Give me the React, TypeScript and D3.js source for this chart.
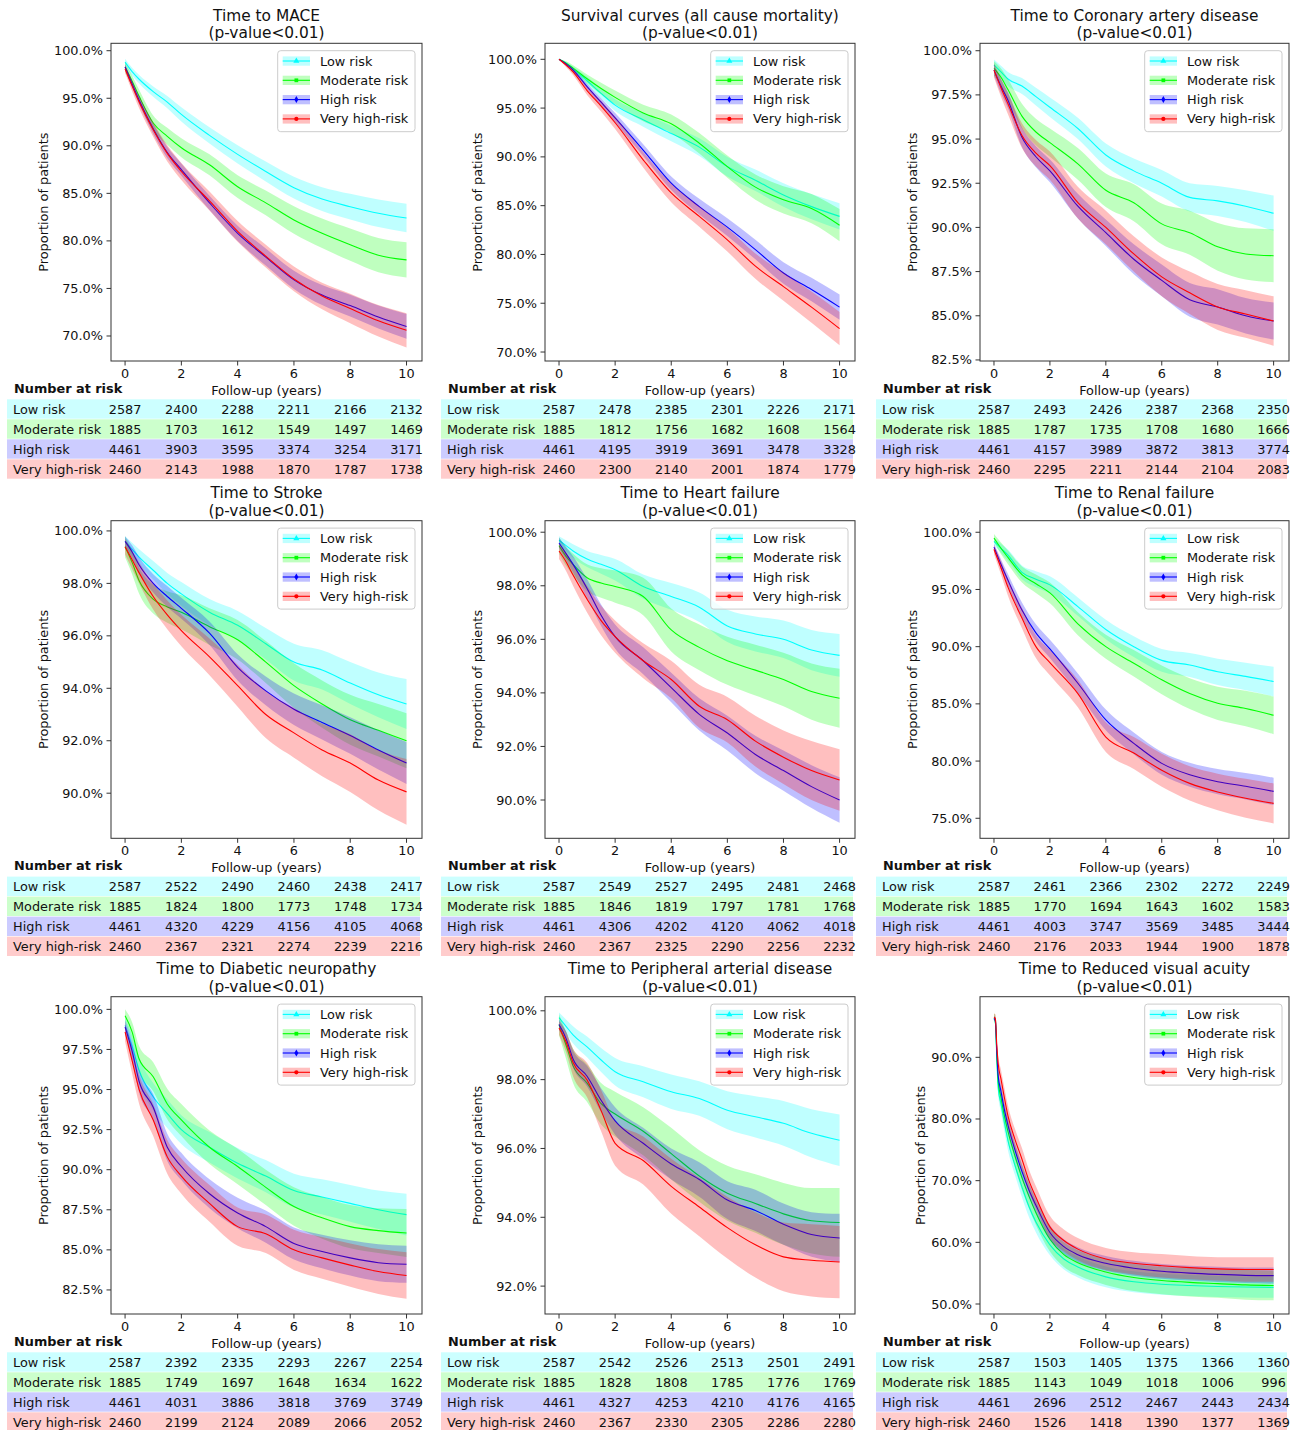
import * as d3 from 'd3';

const W = 1304;
const H = 1430;
const FONT = '"DejaVu Sans", sans-serif';
const FS = 12.85;
const TITLE_FS = 15.4;

const GROUPS = ['Low risk', 'Moderate risk', 'High risk', 'Very high-risk'];
const COLORS = ['#00ffff', '#00ff00', '#0000ff', '#ff0000'];
const TABLE_FILL = ['#ccffff', '#ccffcc', '#ccccff', '#ffcccc'];
const MARKERS = [d3.symbolTriangle, d3.symbolSquare, d3.symbolDiamond, d3.symbolCircle];

const TIMES = [0, 0.25, 0.5, 1, 1.5, 2, 3, 4, 5, 6, 7, 8, 9, 10];
const VA_TIMES = [0, 0.05, 0.1, 0.15, 0.25, 0.35, 0.5, 0.75, 1, 1.25, 1.5, 2, 2.5, 3, 4, 5, 6, 7, 8, 9, 10];
const X_TICKS = [0, 2, 4, 6, 8, 10];

// ---- MACE
const MACE_EST = [
  [98.8, 97.8, 97.0, 95.7, 94.6, 93.3, 91.1, 89.1, 87.3, 85.6, 84.4, 83.6, 82.9, 82.4],
  [98.3, 96.8, 95.2, 92.4, 91.0, 89.8, 88.0, 85.7, 84.0, 82.2, 80.8, 79.6, 78.5, 78.0],
  [98.3, 96.5, 94.8, 91.8, 89.3, 87.5, 84.0, 80.8, 78.3, 75.9, 74.3, 73.2, 72.0, 71.0],
  [98.1, 96.3, 94.6, 91.7, 89.2, 87.3, 84.2, 81.0, 78.4, 76.0, 74.2, 72.9, 71.6, 70.6],
];
const MACE_CI = [
  [0.35, 0.4, 0.45, 0.55, 0.65, 0.75, 0.85, 0.95, 1.05, 1.15, 1.25, 1.35, 1.45, 1.5],
  [0.5, 0.6, 0.7, 0.8, 0.9, 1.0, 1.1, 1.2, 1.3, 1.45, 1.55, 1.7, 1.8, 1.85],
  [0.3, 0.4, 0.45, 0.55, 0.6, 0.65, 0.75, 0.8, 0.9, 0.95, 1.05, 1.15, 1.2, 1.3],
  [0.45, 0.55, 0.65, 0.75, 0.85, 0.9, 1.0, 1.1, 1.2, 1.3, 1.4, 1.55, 1.65, 1.8],
];
const MACE_RISK = [
  [2587, 2400, 2288, 2211, 2166, 2132],
  [1885, 1703, 1612, 1549, 1497, 1469],
  [4461, 3903, 3595, 3374, 3254, 3171],
  [2460, 2143, 1988, 1870, 1787, 1738],
];

// ---- all cause mortality
const DEATH_EST = [
  [100, 99.6, 99.0, 97.8, 96.5, 95.3, 93.8, 92.4, 91.0, 89.0, 87.6, 86.1, 84.9, 83.9],
  [100, 99.6, 99.1, 98.0, 97.0, 96.1, 94.5, 93.4, 91.4, 89.0, 86.9, 85.6, 84.7, 83.0],
  [100, 99.5, 98.9, 97.2, 95.6, 94.0, 90.7, 87.3, 84.9, 82.8, 80.5, 78.1, 76.4, 74.6],
  [100, 99.4, 98.7, 96.8, 95.2, 93.5, 89.7, 86.3, 83.9, 81.5, 78.8, 76.7, 74.6, 72.4],
];
const DEATH_CI = [
  [0, 0.15, 0.25, 0.4, 0.5, 0.6, 0.7, 0.8, 0.9, 1.0, 1.1, 1.2, 1.3, 1.35],
  [0, 0.2, 0.3, 0.45, 0.6, 0.7, 0.85, 0.95, 1.05, 1.15, 1.3, 1.4, 1.5, 1.65],
  [0, 0.15, 0.2, 0.3, 0.4, 0.5, 0.6, 0.7, 0.8, 0.9, 1.0, 1.1, 1.2, 1.3],
  [0, 0.2, 0.3, 0.45, 0.55, 0.65, 0.8, 0.95, 1.05, 1.2, 1.3, 1.45, 1.6, 1.7],
];
const DEATH_RISK = [
  [2587, 2478, 2385, 2301, 2226, 2171],
  [1885, 1812, 1756, 1682, 1608, 1564],
  [4461, 4195, 3919, 3691, 3478, 3328],
  [2460, 2300, 2140, 2001, 1874, 1779],
];

// ---- coronary artery disease
const CAD_EST = [
  [99.2, 98.8, 98.4, 98.0, 97.4, 96.8, 95.6, 94.1, 93.2, 92.5, 91.7, 91.5, 91.2, 90.8],
  [99.0, 98.5, 97.8, 96.3, 95.4, 94.8, 93.6, 92.1, 91.4, 90.2, 89.7, 88.9, 88.5, 88.4],
  [98.9, 98.0, 97.2, 95.1, 94.0, 93.2, 91.2, 89.7, 88.2, 87.0, 85.9, 85.5, 85.0, 84.7],
  [98.9, 97.9, 97.0, 95.2, 94.2, 93.5, 91.4, 90.0, 88.5, 87.2, 86.3, 85.5, 85.1, 84.7],
];
const CAD_CI = [
  [0.3, 0.35, 0.4, 0.45, 0.5, 0.55, 0.6, 0.65, 0.7, 0.75, 0.8, 0.85, 0.9, 1.0],
  [0.4, 0.5, 0.6, 0.7, 0.75, 0.8, 0.9, 0.95, 1.05, 1.15, 1.25, 1.35, 1.45, 1.5],
  [0.3, 0.4, 0.45, 0.55, 0.6, 0.65, 0.7, 0.75, 0.85, 0.9, 0.95, 1.0, 1.0, 1.05],
  [0.4, 0.5, 0.6, 0.7, 0.75, 0.8, 0.9, 0.95, 1.0, 1.1, 1.2, 1.3, 1.35, 1.4],
];
const CAD_RISK = [
  [2587, 2493, 2426, 2387, 2368, 2350],
  [1885, 1787, 1735, 1708, 1680, 1666],
  [4461, 4157, 3989, 3872, 3813, 3774],
  [2460, 2295, 2211, 2144, 2104, 2083],
];

// ---- stroke
const STROKE_EST = [
  [99.6, 99.3, 99.0, 98.5, 98.0, 97.6, 96.9, 96.4, 95.7, 95.0, 94.7, 94.2, 93.75, 93.4],
  [99.4, 98.8, 98.1, 97.4, 97.1, 96.9, 96.35, 95.85, 95.0, 94.1, 93.4, 92.8, 92.4, 92.0],
  [99.6, 99.2, 98.7, 98.0, 97.5, 97.05, 96.1, 94.8, 93.9, 93.2, 92.7, 92.2, 91.65, 91.15],
  [99.4, 98.9, 98.4, 97.5, 96.8, 96.2, 95.2, 94.1, 93.0, 92.3, 91.65, 91.15, 90.5, 90.05],
];
const STROKE_CI = [
  [0.2, 0.25, 0.3, 0.35, 0.4, 0.45, 0.5, 0.55, 0.6, 0.7, 0.75, 0.8, 0.85, 0.95],
  [0.4, 0.45, 0.5, 0.55, 0.6, 0.65, 0.7, 0.75, 0.8, 0.85, 0.9, 0.95, 1.0, 1.05],
  [0.2, 0.25, 0.3, 0.35, 0.4, 0.4, 0.45, 0.5, 0.55, 0.6, 0.65, 0.7, 0.75, 0.8],
  [0.3, 0.35, 0.4, 0.5, 0.55, 0.6, 0.7, 0.8, 0.9, 0.95, 1.0, 1.1, 1.15, 1.25],
];
const STROKE_RISK = [
  [2587, 2522, 2490, 2460, 2438, 2417],
  [1885, 1824, 1800, 1773, 1748, 1734],
  [4461, 4320, 4229, 4156, 4105, 4068],
  [2460, 2367, 2321, 2274, 2239, 2216],
];

// ---- heart failure
const HF_EST = [
  [99.7, 99.5, 99.3, 99.0, 98.8, 98.6, 97.97, 97.6, 97.2, 96.5, 96.2, 96.0, 95.6, 95.4],
  [99.5, 99.1, 98.8, 98.3, 98.1, 97.97, 97.6, 96.35, 95.7, 95.2, 94.85, 94.5, 94.05, 93.8],
  [99.6, 99.2, 98.8, 97.9, 96.9, 96.1, 95.2, 94.2, 93.2, 92.5, 91.7, 91.1, 90.5, 90.0],
  [99.3, 98.9, 98.4, 97.5, 96.7, 96.1, 95.2, 94.5, 93.5, 93.0, 92.2, 91.6, 91.1, 90.75],
];
const HF_CI = [
  [0.15, 0.2, 0.25, 0.3, 0.35, 0.4, 0.45, 0.5, 0.55, 0.6, 0.65, 0.7, 0.75, 0.8],
  [0.3, 0.35, 0.4, 0.5, 0.55, 0.6, 0.7, 0.8, 0.85, 0.9, 0.95, 1.0, 1.05, 1.1],
  [0.2, 0.25, 0.3, 0.35, 0.4, 0.45, 0.5, 0.55, 0.6, 0.65, 0.7, 0.75, 0.8, 0.85],
  [0.3, 0.35, 0.4, 0.5, 0.55, 0.6, 0.65, 0.7, 0.8, 0.85, 0.95, 1.0, 1.1, 1.15],
];
const HF_RISK = [
  [2587, 2549, 2527, 2495, 2481, 2468],
  [1885, 1846, 1819, 1797, 1781, 1768],
  [4461, 4306, 4202, 4120, 4062, 4018],
  [2460, 2367, 2325, 2290, 2256, 2232],
];

// ---- renal failure
const RENAL_EST = [
  [99.2, 98.6, 98.0, 96.5, 95.9, 95.4, 93.5, 91.5, 90.0, 88.8, 88.4, 87.8, 87.4, 86.95],
  [99.5, 98.6, 97.8, 96.3, 95.5, 94.7, 92.0, 90.0, 88.55, 87.1, 85.9, 85.05, 84.6, 84.0],
  [98.7, 97.2, 95.8, 93.2, 91.2, 89.8, 86.8, 83.6, 81.55, 79.8, 78.8, 78.2, 77.8, 77.35],
  [98.5, 96.9, 95.2, 92.5, 90.0, 88.6, 85.9, 82.1, 80.7, 79.2, 78.05, 77.3, 76.75, 76.3],
];
const RENAL_CI = [
  [0.3, 0.4, 0.5, 0.6, 0.7, 0.75, 0.8, 0.85, 0.9, 1.0, 1.05, 1.15, 1.2, 1.3],
  [0.35, 0.5, 0.6, 0.7, 0.8, 0.9, 1.0, 1.05, 1.15, 1.25, 1.35, 1.45, 1.55, 1.65],
  [0.3, 0.45, 0.55, 0.65, 0.75, 0.8, 0.85, 0.9, 0.95, 1.0, 1.05, 1.1, 1.15, 1.2],
  [0.4, 0.6, 0.75, 0.9, 1.0, 1.1, 1.2, 1.3, 1.4, 1.45, 1.5, 1.6, 1.7, 1.75],
];
const RENAL_RISK = [
  [2587, 2461, 2366, 2302, 2272, 2249],
  [1885, 1770, 1694, 1643, 1602, 1583],
  [4461, 4003, 3747, 3569, 3485, 3444],
  [2460, 2176, 2033, 1944, 1900, 1878],
];

// ---- diabetic neuropathy
const NEURO_EST = [
  [99.0, 97.7, 96.2, 94.55, 93.5, 92.5, 91.4, 90.4, 89.6, 88.7, 88.3, 87.9, 87.5, 87.2],
  [99.6, 98.6, 96.9, 95.8, 94.1, 93.1, 91.4, 90.2, 88.9, 87.7, 87.0, 86.45, 86.2, 86.05],
  [98.9, 97.4, 95.5, 93.9, 91.4, 90.2, 88.5, 87.3, 86.45, 85.4, 84.9, 84.5, 84.2, 84.1],
  [98.6, 96.8, 95.0, 93.1, 90.8, 89.6, 87.9, 86.45, 86.0, 85.0, 84.5, 84.05, 83.65, 83.4],
];
const NEURO_CI = [
  [0.5, 0.7, 0.8, 0.85, 0.9, 0.9, 0.95, 0.95, 1.0, 1.05, 1.1, 1.15, 1.2, 1.3],
  [0.4, 0.6, 0.8, 0.9, 0.95, 1.0, 1.05, 1.1, 1.1, 1.2, 1.3, 1.35, 1.4, 1.5],
  [0.4, 0.6, 0.7, 0.8, 0.85, 0.85, 0.9, 0.95, 1.0, 1.0, 1.05, 1.1, 1.15, 1.15],
  [0.6, 0.8, 0.9, 1.0, 1.05, 1.1, 1.15, 1.2, 1.2, 1.25, 1.3, 1.35, 1.4, 1.45],
];
const NEURO_RISK = [
  [2587, 2392, 2335, 2293, 2267, 2254],
  [1885, 1749, 1697, 1648, 1634, 1622],
  [4461, 4031, 3886, 3818, 3769, 3749],
  [2460, 2199, 2124, 2089, 2066, 2052],
];

// ---- peripheral arterial disease
const PAD_EST = [
  [99.8, 99.55, 99.3, 98.95, 98.57, 98.23, 97.94, 97.65, 97.45, 97.11, 96.92, 96.73, 96.44, 96.24],
  [99.6, 99.0, 98.4, 97.9, 97.3, 97.0, 96.5, 95.85, 95.2, 94.7, 94.4, 94.1, 93.9, 93.85],
  [99.6, 99.2, 98.6, 98.1, 97.4, 96.8, 96.15, 95.55, 95.1, 94.5, 94.2, 93.8, 93.5, 93.4],
  [99.5, 99.1, 98.5, 97.99, 97.1, 96.15, 95.65, 94.9, 94.3, 93.7, 93.2, 92.85, 92.75, 92.7],
];
const PAD_CI = [
  [0.15, 0.2, 0.25, 0.3, 0.35, 0.4, 0.45, 0.5, 0.5, 0.55, 0.6, 0.65, 0.7, 0.75],
  [0.3, 0.4, 0.5, 0.55, 0.6, 0.65, 0.7, 0.75, 0.75, 0.8, 0.85, 0.9, 0.95, 1.0],
  [0.15, 0.2, 0.25, 0.3, 0.35, 0.4, 0.45, 0.45, 0.5, 0.55, 0.6, 0.6, 0.65, 0.7],
  [0.2, 0.3, 0.4, 0.5, 0.6, 0.65, 0.7, 0.8, 0.85, 0.9, 0.95, 1.0, 1.05, 1.05],
];
const PAD_RISK = [
  [2587, 2542, 2526, 2513, 2501, 2491],
  [1885, 1828, 1808, 1785, 1776, 1769],
  [4461, 4327, 4253, 4210, 4176, 4165],
  [2460, 2367, 2330, 2305, 2286, 2280],
];

// ---- reduced visual acuity (uses VA_TIMES)
const VA_EST = [
  [96.2, 95.8, 90.0, 85.0, 82.5, 80.0, 76.5, 72.5, 69.0, 65.8, 63.3, 59.6, 57.3, 56.0, 54.4, 53.6, 53.2, 53.0, 52.85, 52.75, 52.7],
  [96.4, 96.0, 90.5, 86.0, 83.5, 81.0, 78.0, 74.0, 70.5, 67.5, 64.8, 60.5, 58.0, 56.7, 55.2, 54.3, 53.8, 53.5, 53.3, 53.1, 53.0],
  [96.3, 96.0, 91.0, 87.0, 84.5, 82.0, 79.0, 75.0, 71.5, 68.5, 66.0, 61.6, 59.3, 58.0, 56.6, 55.8, 55.3, 55.0, 54.8, 54.65, 54.6],
  [96.5, 96.3, 92.0, 89.0, 86.5, 84.0, 80.5, 76.7, 73.5, 70.0, 67.3, 62.5, 60.3, 58.9, 57.3, 56.6, 56.2, 55.9, 55.7, 55.6, 55.6],
];
const VA_CI = [
  [0.6, 0.7, 1.0, 1.2, 1.4, 1.5, 1.6, 1.6, 1.7, 1.7, 1.7, 1.7, 1.7, 1.7, 1.7, 1.7, 1.7, 1.7, 1.7, 1.7, 1.7],
  [0.7, 0.8, 1.2, 1.4, 1.6, 1.7, 1.8, 1.9, 2.0, 2.0, 2.0, 2.0, 2.0, 2.0, 2.1, 2.2, 2.2, 2.3, 2.3, 2.4, 2.4],
  [0.4, 0.5, 0.8, 1.0, 1.1, 1.2, 1.2, 1.2, 1.2, 1.2, 1.2, 1.2, 1.2, 1.2, 1.2, 1.2, 1.2, 1.2, 1.25, 1.25, 1.3],
  [0.6, 0.7, 1.0, 1.3, 1.5, 1.6, 1.7, 1.7, 1.8, 1.8, 1.8, 1.8, 1.8, 1.8, 1.8, 1.8, 1.9, 1.9, 1.9, 2.0, 2.0],
];
const VA_RISK = [
  [2587, 1503, 1405, 1375, 1366, 1360],
  [1885, 1143, 1049, 1018, 1006, 996],
  [4461, 2696, 2512, 2467, 2443, 2434],
  [2460, 1526, 1418, 1390, 1377, 1369],
];

const TICKS_5 = [70, 75, 80, 85, 90, 95, 100];
const TICKS_CAD = [82.5, 85, 87.5, 90, 92.5, 95, 97.5, 100];
const TICKS_2 = [90, 92, 94, 96, 98, 100];
const TICKS_RENAL = [75, 80, 85, 90, 95, 100];
const TICKS_PAD = [92, 94, 96, 98, 100];
const TICKS_VA = [50, 60, 70, 80, 90];

const PANELS = [
  { title: 'Time to MACE', yDomain: [67.37, 100.78], yTicks: TICKS_5, times: TIMES, est: MACE_EST, ci: MACE_CI, risk: MACE_RISK },
  { title: 'Survival curves (all cause mortality)', yDomain: [69.08, 101.64], yTicks: TICKS_5, times: TIMES, est: DEATH_EST, ci: DEATH_CI, risk: DEATH_RISK },
  { title: 'Time to Coronary artery disease', yDomain: [82.44, 100.42], yTicks: TICKS_CAD, times: TIMES, est: CAD_EST, ci: CAD_CI, risk: CAD_RISK },
  { title: 'Time to Stroke', yDomain: [88.28, 100.39], yTicks: TICKS_2, times: TIMES, est: STROKE_EST, ci: STROKE_CI, risk: STROKE_RISK },
  { title: 'Time to Heart failure', yDomain: [88.57, 100.43], yTicks: TICKS_2, times: TIMES, est: HF_EST, ci: HF_CI, risk: HF_RISK },
  { title: 'Time to Renal failure', yDomain: [73.25, 101.01], yTicks: TICKS_RENAL, times: TIMES, est: RENAL_EST, ci: RENAL_CI, risk: RENAL_RISK },
  { title: 'Time to Diabetic neuropathy', yDomain: [81.0, 100.79], yTicks: TICKS_CAD, times: TIMES, est: NEURO_EST, ci: NEURO_CI, risk: NEURO_RISK },
  { title: 'Time to Peripheral arterial disease', yDomain: [91.19, 100.41], yTicks: TICKS_PAD, times: TIMES, est: PAD_EST, ci: PAD_CI, risk: PAD_RISK },
  { title: 'Time to Reduced visual acuity', yDomain: [48.38, 99.83], yTicks: TICKS_VA, times: VA_TIMES, est: VA_EST, ci: VA_CI, risk: VA_RISK },
];

// layout (px)
const COL_LEFT = [111, 545, 980];
const COL_RIGHT = [422, 855, 1289];
const ROW_TOP = [43.3, 520.7, 996.7];
const ROW_BOTTOM = [361, 838.3, 1314];

const fmtPct = (v: number) => d3.format('.1f')(v) + '%';

// rough DejaVu Sans advance widths, to place the y label
const textWidth = (s: string) =>
  s.split('').reduce((acc, c) => acc + (c === '.' ? 0.318 : c === '%' ? 0.95 : 0.636), 0) * FS;

function Panel({ p, col, row }: any) {
  const left = COL_LEFT[col];
  const right = COL_RIGHT[col];
  const top = ROW_TOP[row];
  const bottom = ROW_BOTTOM[row];
  const cx = (left + right) / 2;

  const x = d3.scaleLinear().domain([-0.5, 10.55]).range([left, right]);
  const y = d3.scaleLinear().domain(p.yDomain).range([bottom, top]);

  const line = d3
    .line<[number, number]>()
    .x((d) => x(d[0]))
    .y((d) => y(d[1]))
    .curve(d3.curveMonotoneX);
  const area = d3
    .area<[number, number, number]>()
    .x((d) => x(d[0]))
    .y0((d) => y(d[1] - d[2]))
    .y1((d) => y(d[1] + d[2]))
    .curve(d3.curveMonotoneX);

  const maxTick = d3.max(p.yTicks, (t: number) => textWidth(fmtPct(t))) as number;
  const ylabelX = left - 9 - maxTick - 9.7;

  const legW = 137.3;
  const legH = 81;
  const legX = right - 7 - legW;
  const legY = top + 7.4;

  return (
    <g>
      <text x={cx} y={top - 27.6} textAnchor="middle" dominantBaseline="central" fontSize={TITLE_FS}>
        {p.title}
      </text>
      <text x={cx} y={top - 10} textAnchor="middle" dominantBaseline="central" fontSize={TITLE_FS}>
        (p-value&lt;0.01)
      </text>

      {p.est.map((vals: number[], g: number) => {
        const pts = vals.map((v, i) => [p.times[i], v, p.ci[g][i]] as [number, number, number]);
        return (
          <g key={g}>
            <path d={area(pts) as string} fill={COLORS[g]} fillOpacity={0.25} stroke="none" />
            <path
              d={line(pts.map((d) => [d[0], d[1]] as [number, number])) as string}
              fill="none"
              stroke={COLORS[g]}
              strokeWidth={1.1}
            />
          </g>
        );
      })}

      <rect x={left} y={top} width={right - left} height={bottom - top} fill="none" stroke="#333" strokeWidth={1} />

      {X_TICKS.map((t) => (
        <g key={t}>
          <line x1={x(t)} x2={x(t)} y1={bottom} y2={bottom + 4.5} stroke="#333" />
          <text x={x(t)} y={bottom + 12.3} textAnchor="middle" dominantBaseline="central" fontSize={FS}>
            {t}
          </text>
        </g>
      ))}
      {p.yTicks.map((t: number) => (
        <g key={t}>
          <line x1={left - 4.5} x2={left} y1={y(t)} y2={y(t)} stroke="#333" />
          <text x={left - 8} y={y(t)} textAnchor="end" dominantBaseline="central" fontSize={FS}>
            {fmtPct(t)}
          </text>
        </g>
      ))}
      <text
        transform={`translate(${ylabelX},${(top + bottom) / 2}) rotate(-90)`}
        textAnchor="middle"
        dominantBaseline="central"
        fontSize={FS}
      >
        Proportion of patients
      </text>
      <text x={cx} y={bottom + 29} textAnchor="middle" dominantBaseline="central" fontSize={FS}>
        Follow-up (years)
      </text>

      <g>
        <rect x={legX} y={legY} width={legW} height={legH} rx={3} fill="#fff" fillOpacity={0.8} stroke="#ccc" />
        {GROUPS.map((name, g) => {
          const cy = legY + 10.3 + 19.3 * g;
          const hx0 = legX + 5;
          const hx1 = legX + 32.3;
          return (
            <g key={name}>
              <rect x={hx0} y={cy - 4.6} width={hx1 - hx0} height={9.3} fill={COLORS[g]} fillOpacity={0.25} />
              <line x1={hx0} x2={hx1} y1={cy} y2={cy} stroke={COLORS[g]} strokeWidth={1.1} />
              <path
                d={d3.symbol().type(MARKERS[g]).size(g === 0 ? 16 : 14)() as string}
                transform={`translate(${(hx0 + hx1) / 2},${cy})`}
                fill={COLORS[g]}
              />
              <text x={legX + 42.3} y={cy} dominantBaseline="central" fontSize={FS}>
                {name}
              </text>
            </g>
          );
        })}
      </g>

      <text x={left - 97} y={bottom + 27.3} dominantBaseline="central" fontSize={FS} fontWeight="bold">
        Number at risk
      </text>
      {GROUPS.map((name, g) => {
        const rt = bottom + 38.3 + 20 * g;
        return (
          <g key={name}>
            <rect x={left - 104} y={rt} width={right - 2 - (left - 104)} height={19.4} fill={TABLE_FILL[g]} />
            <text x={left - 98} y={rt + 9.7} dominantBaseline="central" fontSize={FS}>
              {name}
            </text>
            {p.risk[g].map((n: number, i: number) => (
              <text key={i} x={x(X_TICKS[i])} y={rt + 9.7} textAnchor="middle" dominantBaseline="central" fontSize={FS}>
                {n}
              </text>
            ))}
          </g>
        );
      })}
    </g>
  );
}

export default function App() {
  return (
    <svg
      width={W}
      height={H}
      viewBox={`0 0 ${W} ${H}`}
      style={{ position: 'absolute', left: 0, top: 0, background: '#fff' }}
      fontFamily={FONT}
      fill="#111"
    >
      <rect width={W} height={H} fill="#fff" />
      {PANELS.map((p, i) => (
        <Panel key={p.title} p={p} col={i % 3} row={Math.floor(i / 3)} />
      ))}
    </svg>
  );
}
